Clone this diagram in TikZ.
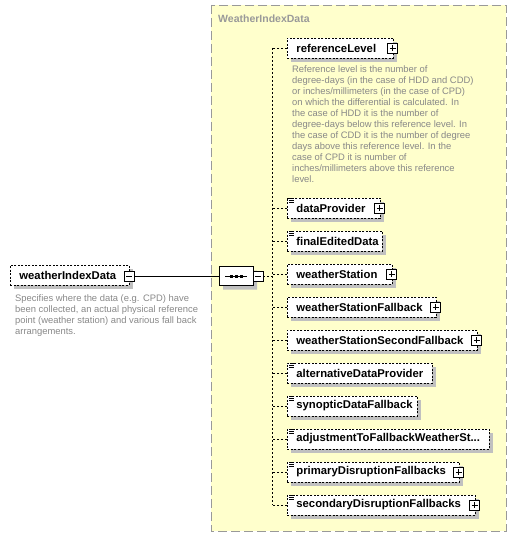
\documentclass[tikz,border=0pt]{standalone}
\usepackage{fontspec}
\setmainfont{Liberation Sans}
\usepackage{xcolor}
\usepackage{tikz}
\usetikzlibrary{positioning,calc,shapes.misc,shadows}

\definecolor{groupfill}{HTML}{FFFFCC}
\definecolor{groupline}{HTML}{999999}
\definecolor{doctext}{HTML}{888888}
\definecolor{shade}{HTML}{C0C0C0}

\begin{document}
\begin{tikzpicture}[
  x=1pt,
  y=-1pt,
  elem/.style={draw=black, dash pattern=on 2pt off 1.5pt, line width=0.8pt, fill=white,
    minimum height=20pt, inner xsep=9pt, inner ysep=0pt, align=left, anchor=west,
    font=\fontsize{11.3}{12}\selectfont\bfseries,
    general shadow={fill=shade, shadow xshift=4pt, shadow yshift=-4pt}},
  doc/.style={anchor=north west, inner sep=0pt, align=left, text=doctext,
    font=\fontsize{9.4}{11}\selectfont},
  conn/.style={draw=black, dash pattern=on 2pt off 2pt, line width=0.8pt},
  toggle/.style={draw=black, line width=0.9pt, fill=white, minimum size=10pt, inner sep=0pt}
]
\useasboundingbox (0,0) rectangle (517,537);

% content group
\fill[groupfill] (211,5) rectangle (506,531);
\draw[groupline, line width=0.8pt, dash pattern=on 9pt off 4pt] (211,5) rectangle (506,531);
\node[anchor=west, inner sep=0pt, text=groupline, font=\fontsize{10.5}{12}\selectfont\bfseries]
  (grouptitle) at (218,19) {WeatherIndexData};

% root element
\node[elem, minimum width=119pt, text width=101pt, inner xsep=9pt] (root) at (10,275) {\mbox{weatherIndexData}};
\node[toggle] (rootminus) at (129,276) {};
\draw[line width=0.9pt] ($(rootminus.center)+(-3,0)$) -- ++(6,0);
\node[doc] (rootdoc) at (15,294) {Specifies where the data (e.g. CPD) have\\
  been collected, an actual physical reference\\
  point (weather station) and various fall back\\
  arrangements.};

% sequence compositor
\node[draw=black, line width=0.8pt, fill=white, chamfered rectangle,
  chamfered rectangle xsep=6pt, chamfered rectangle ysep=6pt,
  minimum width=34pt, minimum height=19pt, inner sep=0pt,
  general shadow={fill=shade, shadow xshift=4pt, shadow yshift=-4pt}] (seq) at (236,276) {};
\draw[line width=0.8pt] ($(seq.center)+(-11,0)$) -- ++(22,0);
\foreach \dx in {-5,0,5}
  \fill ($(seq.center)+(\dx-1.5,-1.5)$) rectangle ++(3,3);
\node[toggle] (seqminus) at (258,276) {};
\draw[line width=0.9pt] ($(seqminus.center)+(-3,0)$) -- ++(6,0);
\draw[line width=0.9pt] (rootminus.east) -- (seq.west);

% spine
\coordinate (spinetop) at (272,48);
\coordinate (spinebot) at (272,505);
\draw[conn] (spinetop) -- (spinebot);
\draw[conn] (seqminus.east) -- (seqminus.east -| spinetop);

% child elements
\foreach \i/\y/\w/\plus/\ann/\txt in {
  1/48/106/1/0/referenceLevel,
  2/208/93/1/1/dataProvider,
  3/241/95/0/1/finalEditedData,
  4/274/105/1/0/weatherStation,
  5/307/149/1/0/weatherStationFallback,
  6/340/190/1/0/weatherStationSecondFallback,
  7/373/145/0/1/alternativeDataProvider,
  8/406/130/0/1/synopticDataFallback,
  9/439/202/0/1/{adjustmentToFallbackWeatherSt...},
  10/472/172/1/1/primaryDisruptionFallbacks,
  11/505/188/1/1/secondaryDisruptionFallbacks
}{
  \pgfmathsetmacro{\tw}{\w-14}
  \node[elem, minimum width=\w pt, text width=\tw pt, inner xsep=7pt] (e\i) at (287,\y) {\mbox{\kern2pt\txt}};
  \draw[conn] (e\i.west) -- (e\i.west -| spinetop);
  \ifnum\plus=1
    \node[toggle] (p\i) at ($(e\i.east)+(-1,0)$) {};
    \draw[line width=0.9pt] ($(p\i.center)+(-3,0)$) -- ++(6,0)
      ($(p\i.center)+(0,-3)$) -- ++(0,6);
  \fi
  \ifnum\ann=1
    \foreach \dy/\dx in {0.8/3,2.8/2,4.8/2}
      \draw[line width=0.45pt] ($(e\i.north west)+(\dx,\dy)$) -- ($(e\i.north west)+(7,\dy)$);
  \fi
}

\node[doc] (refdoc) at (292,65) {Reference level is the number of\\
  degree-days (in the case of HDD and CDD)\\
  or inches/millimeters (in the case of CPD)\\
  on which the differential is calculated. In\\
  the case of HDD it is the number of\\
  degree-days below this reference level. In\\
  the case of CDD it is the number of degree\\
  days above this reference level. In the\\
  case of CPD it is number of\\
  inches/millimeters above this reference\\
  level.};
\end{tikzpicture}
\end{document}
